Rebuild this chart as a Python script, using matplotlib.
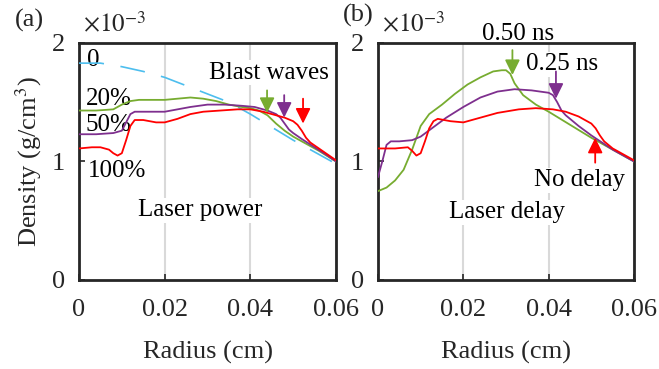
import numpy as np
import matplotlib
matplotlib.use('Agg')
import matplotlib.pyplot as plt

plt.rcParams['font.family'] = ['Liberation Serif', 'DejaVu Serif']
plt.rcParams['mathtext.fontset'] = 'stix'

# panel (a): laser power, density in units of 1e-3 g/cm^3
r_a_0 = [0, 0.005, 0.010, 0.015, 0.020, 0.025, 0.030, 0.035, 0.040, 0.045, 0.050, 0.055, 0.060]
d_a_0 = [1.83, 1.83, 1.80, 1.76, 1.71, 1.64, 1.57, 1.50, 1.40, 1.29, 1.18, 1.08, 0.98]

r_a_20 = [0, 0.004, 0.008, 0.010, 0.012, 0.014, 0.017, 0.020, 0.023, 0.026, 0.029, 0.032,
          0.035, 0.038, 0.040, 0.042, 0.044, 0.046, 0.048, 0.050, 0.053, 0.056, 0.060]
d_a_20 = [1.43, 1.43, 1.44, 1.48, 1.51, 1.52, 1.52, 1.52, 1.53, 1.54, 1.53, 1.51,
          1.48, 1.46, 1.45, 1.43, 1.39, 1.32, 1.26, 1.21, 1.15, 1.09, 1.00]

r_a_50 = [0, 0.004, 0.008, 0.010, 0.011, 0.012, 0.013, 0.015, 0.018, 0.020, 0.023, 0.026, 0.030,
          0.034, 0.038, 0.041, 0.044, 0.046, 0.047, 0.048, 0.049, 0.050, 0.052, 0.055, 0.058, 0.060]
d_a_50 = [1.23, 1.23, 1.24, 1.26, 1.33, 1.40, 1.42, 1.42, 1.42, 1.42, 1.44, 1.46, 1.48,
          1.48, 1.47, 1.46, 1.43, 1.40, 1.37, 1.32, 1.27, 1.24, 1.19, 1.12, 1.05, 1.00]

r_a_100 = [0, 0.003, 0.005, 0.007, 0.008, 0.009, 0.010, 0.011, 0.012, 0.013, 0.015, 0.018,
           0.020, 0.023, 0.026, 0.029, 0.033, 0.037, 0.040, 0.043, 0.046, 0.048, 0.050,
           0.051, 0.052, 0.053, 0.054, 0.056, 0.058, 0.060]
d_a_100 = [1.11, 1.12, 1.12, 1.10, 1.07, 1.05, 1.07, 1.18, 1.30, 1.35, 1.35, 1.33,
           1.33, 1.36, 1.40, 1.42, 1.43, 1.44, 1.44, 1.42, 1.39, 1.37, 1.34,
           1.31, 1.26, 1.20, 1.16, 1.11, 1.06, 1.01]

# panel (b): laser delay
r_b_050 = [0, 0.002, 0.004, 0.006, 0.008, 0.010, 0.012, 0.015, 0.018, 0.021, 0.024, 0.027,
           0.029, 0.030, 0.031, 0.032, 0.034, 0.037, 0.040, 0.045, 0.050, 0.055, 0.060]
d_b_050 = [0.75, 0.78, 0.84, 0.93, 1.10, 1.30, 1.40, 1.48, 1.57, 1.65, 1.71, 1.76,
           1.77, 1.77, 1.74, 1.66, 1.56, 1.48, 1.42, 1.31, 1.20, 1.10, 1.00]

r_b_025 = [0, 0.001, 0.002, 0.003, 0.005, 0.008, 0.010, 0.013, 0.016, 0.020, 0.024, 0.028,
           0.032, 0.036, 0.040, 0.041, 0.042, 0.043, 0.044, 0.047, 0.050, 0.055, 0.060]
d_b_025 = [0.87, 1.00, 1.14, 1.17, 1.17, 1.18, 1.21, 1.29, 1.37, 1.46, 1.54, 1.59,
           1.61, 1.60, 1.58, 1.56, 1.50, 1.43, 1.39, 1.30, 1.22, 1.10, 1.00]

r_b_0 = [0, 0.004, 0.007, 0.008, 0.009, 0.010, 0.011, 0.012, 0.013, 0.014, 0.017, 0.020,
         0.024, 0.028, 0.033, 0.037, 0.041, 0.044, 0.047, 0.050, 0.051, 0.052, 0.053,
         0.055, 0.058, 0.060]
d_b_0 = [1.11, 1.11, 1.12, 1.09, 1.05, 1.07, 1.17, 1.28, 1.34, 1.36, 1.34, 1.33,
         1.37, 1.41, 1.44, 1.45, 1.44, 1.42, 1.38, 1.32, 1.28, 1.22, 1.17,
         1.11, 1.05, 1.01]

green = '#77AC30'
purple = '#7E2F8E'
red = '#FF0000'
blue = '#4DBEEE'

fig = plt.figure(figsize=(6.59, 3.69), dpi=100)
ax1 = fig.add_axes([0.1199, 0.2412, 0.390, 0.6423])
ax2 = fig.add_axes([0.5736, 0.2412, 0.3885, 0.6423])

fs = 19
tfs = 18

def style(ax):
    ax.set_xlim(0, 0.06)
    ax.set_ylim(0, 2)
    ax.set_xticks([0, 0.02, 0.04, 0.06])
    ax.set_xticklabels(['0', '0.02', '0.04', '0.06'])
    ax.set_yticks([0, 1, 2])
    ax.set_yticklabels(['0', '1', '2'])
    ax.tick_params(direction='in', length=4, width=1.2, labelsize=fs, colors='#262626',
                   top=False, right=False)
    ax.tick_params(axis='x', pad=14)
    ax.tick_params(axis='y', pad=10)
    ax.grid(axis='x', color='#d9d9d9', lw=1.5, zorder=0)
    ax.set_axisbelow(True)
    for s in ax.spines.values():
        s.set_linewidth(2)
        s.set_color('#262626')
    ax.set_xlabel('Radius (cm)', fontsize=fs, color='#262626', labelpad=14)
    ax.text(0.015, 1.025, r'$\times10^{-3}$', transform=ax.transAxes, fontsize=tfs,
            ha='left', va='bottom', color='#262626')

def arrow(ax, x, y0, y1, c):
    ax.annotate('', xy=(x, y1), xytext=(x, y0),
                arrowprops=dict(arrowstyle='-|>,head_length=0.65,head_width=0.32',
                                color=c, lw=1.3, mutation_scale=14,
                                shrinkA=0, shrinkB=0), zorder=5)

bb = dict(facecolor='white', edgecolor='none', pad=1)

style(ax1)
ax1.plot(r_a_0, d_a_0, color=blue, lw=1.2, dashes=(15, 10), zorder=3)
ax1.plot(r_a_20, d_a_20, color=green, lw=1.3, zorder=3)
ax1.plot(r_a_50, d_a_50, color=purple, lw=1.3, zorder=3)
ax1.plot(r_a_100, d_a_100, color=red, lw=1.3, zorder=3)
arrow(ax1, 0.0439, 1.60, 1.41, green)
arrow(ax1, 0.0479, 1.56, 1.37, purple)
arrow(ax1, 0.0523, 1.53, 1.32, red)
ax1.text(0.0444, 1.75, 'Blast waves', fontsize=tfs, ha='center', va='center', bbox=bb, zorder=2)
ax1.text(0.0033, 1.86, '0', fontsize=tfs, ha='center', va='center', zorder=2)
ax1.text(0.0016, 1.53, '20%', fontsize=tfs, ha='left', va='center', zorder=2)
ax1.text(0.0014, 1.31, '50%', fontsize=tfs, ha='left', va='center', zorder=2)
ax1.text(0.0020, 0.92, '100%', fontsize=tfs, ha='left', va='center', zorder=2)
ax1.text(0.0283, 0.59, 'Laser power', fontsize=tfs, ha='center', va='center', bbox=bb, zorder=2)
ax1.set_ylabel('Density (g/cm$^3$)', fontsize=fs, color='#262626', labelpad=6)

style(ax2)
ax2.plot(r_b_050, d_b_050, color=green, lw=1.3, zorder=3)
ax2.plot(r_b_025, d_b_025, color=purple, lw=1.3, zorder=3)
ax2.plot(r_b_0, d_b_0, color=red, lw=1.3, zorder=3)
arrow(ax2, 0.0315, 1.94, 1.73, green)
arrow(ax2, 0.0417, 1.76, 1.53, purple)
arrow(ax2, 0.0509, 0.99, 1.20, red)
ax2.text(0.0328, 2.08, '0.50 ns', fontsize=tfs, ha='center', va='center', zorder=2)
ax2.text(0.0431, 1.82, '0.25 ns', fontsize=tfs, ha='center', va='center', bbox=bb, zorder=2)
ax2.text(0.0473, 0.84, 'No delay', fontsize=tfs, ha='center', va='center', bbox=bb, zorder=2)
ax2.text(0.0302, 0.57, 'Laser delay', fontsize=tfs, ha='center', va='center', bbox=bb, zorder=2)

fig.text(15 / 659, 1 - 20 / 369, '(a)', fontsize=fs, ha='left', va='center', color='#262626')
fig.text(343 / 659, 1 - 15 / 369, '(b)', fontsize=fs, ha='left', va='center', color='#262626')

fig.savefig('out.png', dpi=100)
